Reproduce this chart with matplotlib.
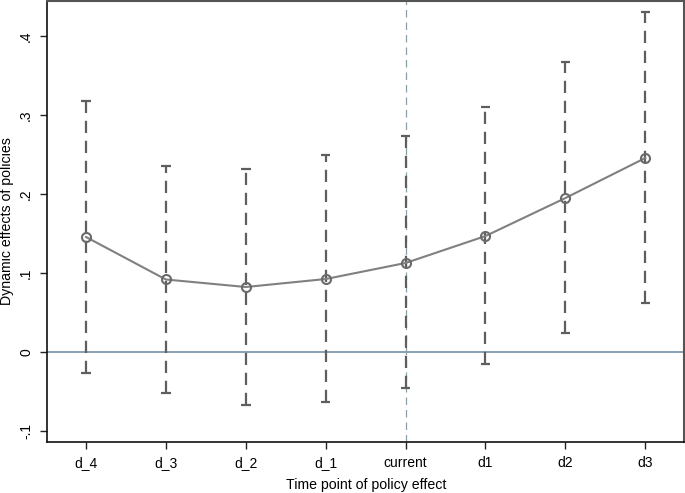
import matplotlib
matplotlib.use("Agg")
import matplotlib.pyplot as plt
import numpy as np

plt.rcParams['font.family'] = ['Liberation Sans', 'DejaVu Sans']

categories = ["d_4", "d_3", "d_2", "d_1", "current", "d1", "d2", "d3"]
estimates = [0.1456, 0.0918, 0.0823, 0.0924, 0.1127, 0.1468, 0.1949, 0.2456]
upper = [0.318, 0.2354, 0.2316, 0.2494, 0.2734, 0.310, 0.367, 0.430]
lower = [-0.0266, -0.0519, -0.0671, -0.0633, -0.0456, -0.0152, 0.0241, 0.0620]
yticks = [-0.1, 0, 0.1, 0.2, 0.3, 0.4]
yticklabels = ["-.1", "0", ".1", ".2", ".3", ".4"]

fig = plt.figure(figsize=(6.85, 4.93), dpi=100)
ax = fig.add_axes([0.0686, 0.1034, 0.9306, 0.8946])

x = np.arange(len(categories))

ax.axhline(0, color="#7f99ad", lw=1.3, zorder=1)
ax.axvline(4, color="#8a9fa8", lw=0.9, dashes=(6, 4), zorder=1)

ax.vlines(x, lower, upper, colors="#5e5e5e", lw=1.6, linestyles=(0, (5.5, 3.5)), zorder=2)
ax.hlines(upper, x - 0.06, x + 0.06, colors="#5e5e5e", lw=1.6, zorder=2)
ax.hlines(lower, x - 0.06, x + 0.06, colors="#5e5e5e", lw=1.6, zorder=2)

ax.plot(x, estimates, color="#808080", lw=1.5, zorder=3,
        marker="o", markersize=6.5, markerfacecolor="none",
        markeredgecolor="#6a6a6a", markeredgewidth=1.5)

ax.set_xlim(-0.488, 7.49)
ax.set_ylim(-0.1139, 0.4443)
ax.set_xticks(x)
ax.set_xticklabels(categories, fontsize=10)
ax.set_yticks(yticks)
ax.set_yticklabels(yticklabels, fontsize=10, rotation=90, va="center")
ax.tick_params(axis="both", length=5, width=1, color="#222222", pad=5)
ax.set_xlabel("Time point of policy effect", fontsize=10.2, labelpad=6)
ax.set_ylabel("Dynamic effects of policies", fontsize=10.2, labelpad=4)

for side in ["left", "bottom"]:
    ax.spines[side].set_color("#111111")
    ax.spines[side].set_linewidth(1.2)
for side in ["top", "right"]:
    ax.spines[side].set_color("#555555")
    ax.spines[side].set_linewidth(1.5)

fig.savefig("out.png", dpi=100)
